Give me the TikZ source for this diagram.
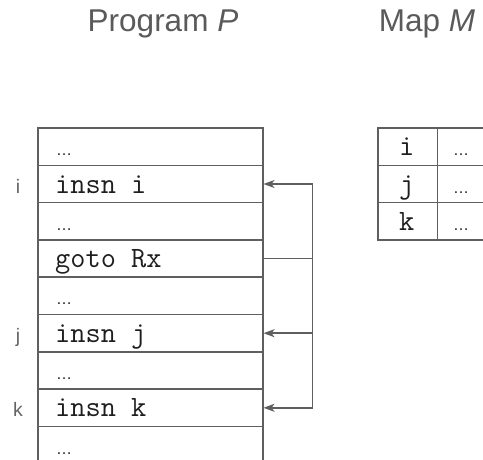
\documentclass[tikz,border=0pt]{standalone}
\usepackage{fontspec}
\setmainfont{Liberation Sans}
\usetikzlibrary{arrows.meta}
\definecolor{linegray}{HTML}{5F5F5F}
\definecolor{titlegray}{HTML}{5A5A5A}
\definecolor{labelgray}{HTML}{646464}
\definecolor{codeblack}{HTML}{1E1E1E}
\tikzset{
  rowbox/.style={draw=linegray, line width=1.5pt, minimum width=225pt, minimum height=37.3pt,
    inner sep=0pt, anchor=north west},
  cellbox/.style={draw=linegray, line width=1.5pt, minimum width=59.5pt, minimum height=37.3pt,
    inner sep=0pt, anchor=north west},
  codetxt/.style={font=\ttfamily\fontsize{29.5}{29.5}\selectfont, text=codeblack, anchor=base west, inner sep=0pt},
  dotstxt/.style={font=\fontsize{16}{16}\selectfont, text=codeblack, anchor=base west, inner sep=0pt},
  rowlabel/.style={font=\fontsize{19.5}{19.5}\selectfont, text=labelgray, anchor=base, inner sep=0pt},
  titletxt/.style={font=\fontsize{31.5}{31.5}\selectfont, text=titlegray, anchor=base, inner sep=0pt},
  jump/.style={draw=linegray, line width=1.5pt, -{Stealth[length=11pt,width=8pt,inset=3pt]}},
  plainline/.style={draw=linegray, line width=1.5pt}
}
\begin{document}
\begin{tikzpicture}[x=1pt,y=-1pt]
\useasboundingbox (0,0) rectangle (483,460);
\begin{scope}
\clip (0,0) rectangle (483,460);
% titles
\node[titletxt] (tp) at (163,32) {Program \textit{P}};
\node[titletxt] (tm) at (427,32) {Map \textit{M}};
% program rows
\node[rowbox] (r1) at (37,127.3) {};
\node[rowbox] (r2) at (37,164.6) {};
\node[rowbox] (r3) at (37,201.9) {};
\node[rowbox] (r4) at (37,239.2) {};
\node[rowbox] (r5) at (37,276.5) {};
\node[rowbox] (r6) at (37,313.8) {};
\node[rowbox] (r7) at (37,351.1) {};
\node[rowbox] (r8) at (37,388.4) {};
\node[rowbox] (r9) at (37,425.7) {};
% row texts
\node[dotstxt] (t1) at (56,155.8) {…};
\node[codetxt] (t2) at (55,193.1) {insn i};
\node[dotstxt] (t3) at (56,230.4) {…};
\node[codetxt] (t4) at (55,267.7) {goto Rx};
\node[dotstxt] (t5) at (56,305.0) {…};
\node[codetxt] (t6) at (55,342.3) {insn j};
\node[dotstxt] (t7) at (56,379.6) {…};
\node[codetxt] (t8) at (55,416.9) {insn k};
\node[dotstxt] (t9) at (56,454.2) {…};
% row labels
\node[rowlabel] (li) at (18,193.1) {i};
\node[rowlabel] (lj) at (18,342.3) {j};
\node[rowlabel] (lk) at (18,416.9) {k};
% map table
\node[cellbox] (m1a) at (377,127.3) {};
\node[cellbox] (m1b) at (436.5,127.3) {};
\node[cellbox] (m2a) at (377,164.6) {};
\node[cellbox] (m2b) at (436.5,164.6) {};
\node[cellbox] (m3a) at (377,201.9) {};
\node[cellbox] (m3b) at (436.5,201.9) {};
\node[codetxt, anchor=base] (mi) at (406.7,155.8) {i};
\node[codetxt, anchor=base] (mj) at (406.7,193.1) {j};
\node[codetxt, anchor=base] (mk) at (406.7,230.4) {k};
\node[dotstxt] (md1) at (453,155.8) {…};
\node[dotstxt] (md2) at (453,193.1) {…};
\node[dotstxt] (md3) at (453,230.4) {…};
% jumps
\coordinate (busx) at (312.3,0);
\coordinate (bus) at (r4.east -| busx);
\draw[plainline] (r4.east) -- (bus);
\draw[jump] (bus) |- (r2.east);
\draw[jump] (bus) |- (r6.east);
\draw[jump] (bus) |- (r8.east);
\end{scope}
\end{tikzpicture}
\end{document}
